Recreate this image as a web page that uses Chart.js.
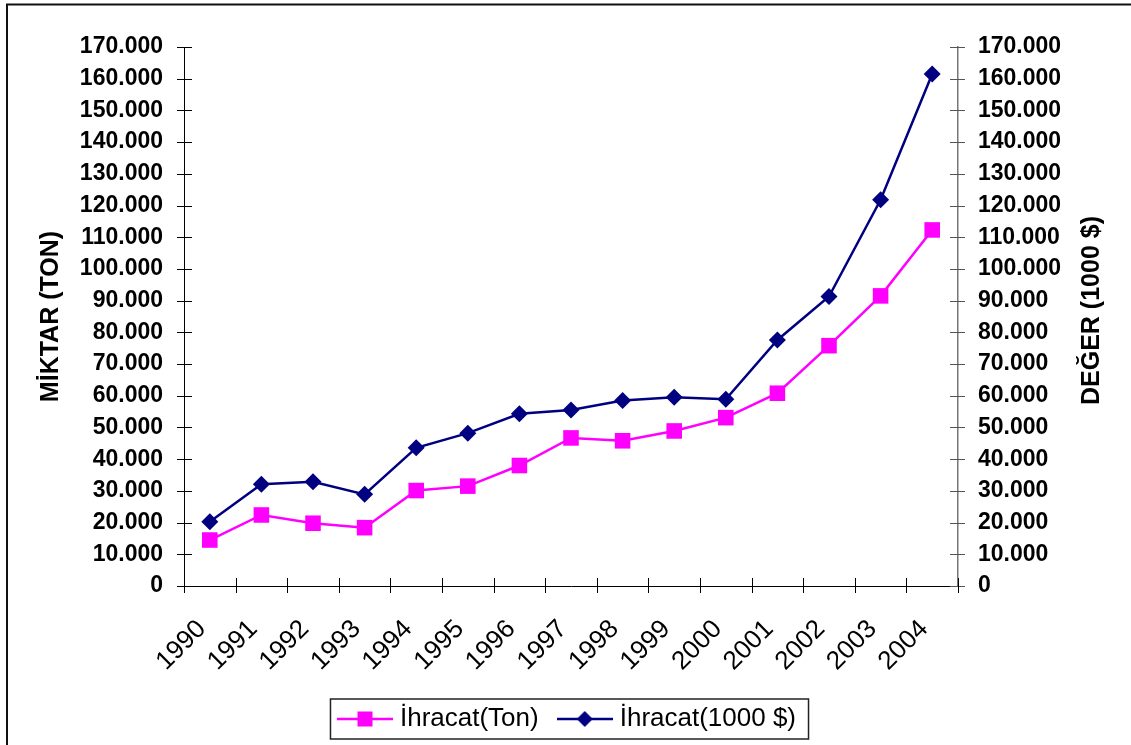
<!DOCTYPE html>
<html><head><meta charset="utf-8">
<script src="https://cdn.jsdelivr.net/npm/chart.js@4"></script>
<style>html,body{margin:0;padding:0;background:#fff}#wrap{width:1131px;height:745px;position:relative}canvas{display:block}</style>
</head><body><div id="wrap"><canvas id="c" width="1131" height="745"></canvas></div>
<script>
const years = ['1990','1991','1992','1993','1994','1995','1996','1997','1998','1999','2000','2001','2002','2003','2004'];
const exportTon = [14500, 22400, 19800, 18400, 30100, 31500, 38000, 46700, 45800, 48900, 53100, 60800, 75800, 91500, 112300];
const exportValue = [20300, 32100, 32900, 28900, 43600, 48200, 54300, 55500, 58500, 59500, 58900, 77600, 91300, 121800, 161500];
const yMin = 0, yMax = 170000, yStep = 10000;
const seriesNames = ['İhracat(Ton)', 'İhracat(1000 $)'];
const leftTitle = 'MİKTAR (TON)';
const rightTitle = 'DEĞER (1000 $)';

const FONT = "'Liberation Sans', Arial, sans-serif";
const MAGENTA = '#FF00FF', NAVY = '#000080';

function fmt(v){ return String(v).replace(/\B(?=(\d{3})+(?!\d))/g, '.'); }

function legendSymbol(color, shape){
  const c = document.createElement('canvas');
  c.width = 56; c.height = 24;
  const g = c.getContext('2d');
  g.strokeStyle = color; g.lineWidth = 2.5;
  g.beginPath(); g.moveTo(0, 12); g.lineTo(56, 12); g.stroke();
  g.fillStyle = color;
  if (shape === 'square') { g.fillRect(28-7.5, 12-7.5, 15, 15); }
  else { g.beginPath(); g.moveTo(28, 4); g.lineTo(36, 12); g.lineTo(28, 20); g.lineTo(20, 12); g.closePath(); g.fill(); }
  return c;
}
const symTon = legendSymbol(MAGENTA, 'square');
const symVal = legendSymbol(NAVY, 'diamond');

Chart.defaults.color = '#000';
Chart.defaults.font.family = FONT;

const decor = {
  id: 'decor',
  beforeDraw(chart){
    const ctx = chart.ctx;
    ctx.save();
    ctx.fillStyle = '#fff'; ctx.fillRect(0,0,chart.width,chart.height);
    ctx.strokeStyle = '#111'; ctx.lineWidth = 2;
    ctx.strokeRect(7, 4.5, chart.width + 50, chart.height + 50);
    ctx.restore();
  },
  afterDraw(chart){
    const ctx = chart.ctx;
    const {y, y1, x} = chart.scales;
    const ca = chart.chartArea;
    ctx.save();
    ctx.lineWidth = 1;
    ctx.strokeStyle = '#000';
    y.ticks.forEach(t => { const py = Math.round(y.getPixelForValue(t.value)) + 0.5; ctx.beginPath(); ctx.moveTo(ca.left - 7, py); ctx.lineTo(ca.left + 8, py); ctx.stroke(); });
    ctx.strokeStyle = '#555';
    y1.ticks.forEach(t => { const py = Math.round(y1.getPixelForValue(t.value)) + 0.5; ctx.beginPath(); ctx.moveTo(ca.right - 8, py); ctx.lineTo(ca.right + 7, py); ctx.stroke(); });
    ctx.strokeStyle = '#000';
    const w = (x.getPixelForValue(1) - x.getPixelForValue(0));
    for (let i = 0; i <= years.length; i++) {
      const px = Math.round(x.getPixelForValue(0) - w/2 + i*w) + 0.5;
      ctx.beginPath(); ctx.moveTo(px, ca.bottom - 8); ctx.lineTo(px, ca.bottom + 7); ctx.stroke();
    }
    ctx.fillStyle = '#000';
    ctx.font = "bold 25px " + FONT;
    ctx.textAlign = 'center'; ctx.textBaseline = 'middle';
    ctx.translate(y1.right - 39, (ca.top + ca.bottom)/2 - 6);
    ctx.rotate(-Math.PI/2);
    ctx.fillText(rightTitle, 0, 0);
    ctx.restore();
    const lg = chart.legend;
    if (lg && lg.legendHitBoxes && lg.legendHitBoxes.length) {
      const hb = lg.legendHitBoxes;
      const l = Math.min(...hb.map(h => h.left)) - 13;
      const r = Math.max(...hb.map(h => h.left + h.width)) + 12;
      const cy = hb[0].top + hb[0].height/2;
      ctx.save();
      ctx.strokeStyle = '#222'; ctx.lineWidth = 1.5;
      ctx.strokeRect(l + 0.5, cy - 20, r - l, 40);
      ctx.restore();
    }
  }
};

new Chart(document.getElementById('c'), {
  type: 'line',
  data: {
    labels: years,
    datasets: [
      { label: seriesNames[0], data: exportTon, yAxisID: 'y', borderColor: MAGENTA, backgroundColor: MAGENTA,
        borderWidth: 2.5, pointStyle: 'rect', pointRadius: 11, pointHoverRadius: 11, pointBorderWidth: 0, tension: 0 },
      { label: seriesNames[1], data: exportValue, yAxisID: 'y1', borderColor: NAVY, backgroundColor: NAVY,
        borderWidth: 2.5, pointStyle: 'rectRot', pointRadius: 8.5, pointHoverRadius: 8.5, pointBorderWidth: 0, tension: 0 }
    ]
  },
  options: {
    responsive: false,
    animation: false,
    devicePixelRatio: 1,
    layout: { padding: { left: 8, right: 0, top: 47, bottom: 3 } },
    plugins: {
      tooltip: { enabled: false },
      legend: {
        position: 'bottom',
        labels: {
          font: { size: 26, family: FONT },
          padding: 24,
          usePointStyle: true,
          pointStyleWidth: 44,
          color: '#000',
          generateLabels(chart){
            return chart.data.datasets.map((ds, i) => ({
              text: ds.label, pointStyle: i === 0 ? symTon : symVal, datasetIndex: i,
              fillStyle: ds.borderColor, strokeStyle: ds.borderColor, lineWidth: 0, hidden: false, fontColor: '#000'
            }));
          }
        }
      }
    },
    scales: {
      x: {
        type: 'category',
        offset: true,
        grid: { display: false, drawTicks: false, offset: true },
        border: { display: true, color: '#000', width: 1 },
        ticks: { minRotation: 45, maxRotation: 45, padding: 28, labelOffset: -8, font: { size: 26, family: FONT }, color: '#000' },
        afterFit(s){ s.height = 96; }
      },
      y: {
        position: 'left', min: yMin, max: yMax,
        grid: { display: false, drawTicks: false },
        border: { display: true, color: '#000', width: 1 },
        ticks: { stepSize: yStep, padding: 21, font: { size: 23, weight: 'bold', family: FONT }, color: '#000', callback: v => fmt(v) },
        title: { display: true, text: leftTitle, font: { size: 25, weight: 'bold', family: FONT }, color: '#000', padding: { top: 28, bottom: 0 } },
        afterFit(s){ s.width = 176; }
      },
      y1: {
        position: 'right', min: yMin, max: yMax,
        grid: { display: false, drawTicks: false },
        border: { display: true, color: '#777', width: 1.5 },
        ticks: { stepSize: yStep, padding: 20, font: { size: 23, weight: 'bold', family: FONT }, color: '#000', callback: v => fmt(v) },
        afterFit(s){ s.width = 173; }
      }
    }
  },
  plugins: [decor]
});
</script></body></html>
